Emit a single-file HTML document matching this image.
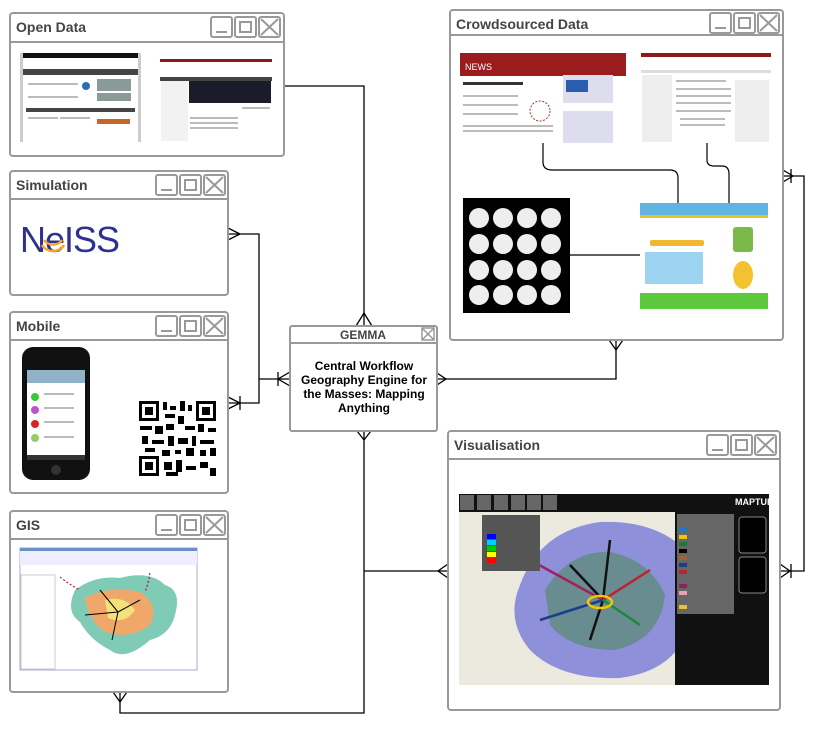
<!DOCTYPE html>
<html><head><meta charset="utf-8"><style>
html,body{margin:0;padding:0;background:#fff;}
svg{display:block;}
text{font-family:"Liberation Sans",Arial,sans-serif;}
</style></head><body>
<svg width="823" height="729" viewBox="0 0 823 729" xmlns="http://www.w3.org/2000/svg">
<defs>
<g id="btns" fill="none" stroke="#999" stroke-width="2">
<rect x="0" y="0" width="21" height="20" rx="2"/><line x1="5" y1="15" x2="16" y2="15"/>
<rect x="24" y="0" width="21" height="20" rx="2"/><rect x="29" y="5" width="11" height="10"/>
<rect x="48" y="0" width="21" height="20" rx="2"/><line x1="50" y1="2" x2="67" y2="18"/><line x1="67" y1="2" x2="50" y2="18"/>
</g>
</defs>

<!-- connectors -->
<g fill="none" stroke="#000" stroke-width="1.3">
<polyline points="284,86 364,86 364,326"/>
<polyline points="356,326 364,313 372,326"/>
<polyline points="228,234 259,234 259,403 228,403"/>
<polyline points="228,228 240,234 228,240"/><line x1="240" y1="396" x2="240" y2="410"/><polyline points="228,397 240,403 228,409"/>
<line x1="259" y1="379" x2="290" y2="379"/><line x1="278" y1="372" x2="278" y2="386"/><polyline points="290,372 278,379 290,386"/>
<polyline points="437,379 616,379 616,340"/>
<polyline points="437,373 446,379 437,385"/><polyline points="609,340 616,350 623,340"/>
<polyline points="364,431 364,713 120,713 120,692"/>
<polyline points="357,431 364,440 371,431"/><polyline points="113,692 120,702 127,692"/>
<line x1="364" y1="571" x2="448" y2="571"/><polyline points="448,564 438,571 448,578"/>
<polyline points="783,176 804,176 804,571 780,571"/>
<polyline points="783,170 793,176 783,182"/><line x1="791" y1="169" x2="791" y2="183"/>
<polyline points="780,564 790,571 780,578"/><line x1="791" y1="564" x2="791" y2="578"/>
</g>

<!-- windows -->
<g fill="#fff" stroke="#999" stroke-width="2">
<rect x="10" y="13" width="274" height="143" rx="3"/><line x1="10" y1="42" x2="284" y2="42"/>
<rect x="10" y="171" width="218" height="124" rx="3"/><line x1="10" y1="199" x2="228" y2="199"/>
<rect x="10" y="312" width="218" height="181" rx="3"/><line x1="10" y1="340" x2="228" y2="340"/>
<rect x="10" y="511" width="218" height="181" rx="3"/><line x1="10" y1="539" x2="228" y2="539"/>
<rect x="450" y="10" width="333" height="330" rx="3"/><line x1="450" y1="35" x2="783" y2="35"/>
<rect x="448" y="431" width="332" height="279" rx="3"/><line x1="448" y1="459" x2="780" y2="459"/>
<rect x="290" y="326" width="147" height="105" rx="2"/><line x1="290" y1="343" x2="437" y2="343"/>
</g>
<use href="#btns" x="211" y="17"/>
<use href="#btns" x="156" y="175"/>
<use href="#btns" x="156" y="316"/>
<use href="#btns" x="156" y="515"/>
<use href="#btns" x="710" y="13"/>
<use href="#btns" x="707" y="435"/>
<g fill="none" stroke="#999" stroke-width="1.5"><rect x="422" y="328" width="12" height="12"/><line x1="422" y1="328" x2="434" y2="340"/><line x1="434" y1="328" x2="422" y2="340"/></g>

<g font-weight="bold" fill="#444" font-size="14">
<text x="16" y="32">Open Data</text>
<text x="16" y="190">Simulation</text>
<text x="16" y="331">Mobile</text>
<text x="16" y="530">GIS</text>
<text x="456" y="29">Crowdsourced Data</text>
<text x="454" y="450">Visualisation</text>
<text x="363" y="339" font-size="12" text-anchor="middle">GEMMA</text>
</g>
<g font-weight="bold" fill="#000" font-size="12" text-anchor="middle">
<text x="364" y="370">Central Workflow</text>
<text x="364" y="384">Geography Engine for</text>
<text x="364" y="398">the Masses: Mapping</text>
<text x="364" y="412">Anything</text>
</g>

<!-- Open Data screenshots -->
<rect x="20" y="53" width="121" height="89" fill="#ccc"/>
<rect x="23" y="53" width="115" height="89" fill="#fff"/>
<rect x="23" y="53" width="115" height="5" fill="#111"/>
<rect x="23" y="69" width="115" height="6" fill="#444"/>
<rect x="26" y="108" width="109" height="4" fill="#444"/>
<rect x="97" y="79" width="34" height="12" fill="#8a9a98"/>
<rect x="97" y="93" width="34" height="8" fill="#8a9a98"/>
<circle cx="86" cy="86" r="4" fill="#2a6bbd"/>
<rect x="97" y="119" width="33" height="5" fill="#c86428"/>
<g fill="#bbb"><rect x="28" y="83" width="50" height="2"/><rect x="28" y="96" width="50" height="2"/><rect x="28" y="117" width="30" height="2"/><rect x="60" y="117" width="30" height="2"/></g>
<rect x="160" y="58" width="112" height="84" fill="#fff"/>
<rect x="160" y="59" width="112" height="3" fill="#8b1a1a"/>
<rect x="160" y="77" width="112" height="4" fill="#444"/>
<rect x="189" y="81" width="82" height="22" fill="#1b1b2a"/>
<rect x="161" y="81" width="27" height="60" fill="#f2f2f2"/>
<g fill="#bbb"><rect x="190" y="117" width="48" height="2"/><rect x="190" y="122" width="48" height="2"/><rect x="190" y="127" width="48" height="2"/><rect x="242" y="107" width="28" height="2"/></g>

<!-- NeISS -->
<text x="20" y="252" font-size="36" fill="#2e3192" letter-spacing="-1">NeISS</text>
<g fill="none" stroke="#f5a623" stroke-width="2.5"><path d="M44 240 a10 8 0 0 0 18 0"/><path d="M42 245 a12 10 0 0 0 22 0"/></g>

<!-- Mobile -->
<rect x="22" y="347" width="68" height="133" rx="11" fill="#111"/>
<rect x="27" y="370" width="58" height="90" fill="#fff"/>
<rect x="27" y="370" width="58" height="13" fill="#8fb2c9"/>
<circle cx="56" cy="470" r="5" fill="#333"/>
<g fill="#bbb"><rect x="44" y="393" width="30" height="2"/><rect x="44" y="407" width="30" height="2"/><rect x="44" y="421" width="30" height="2"/><rect x="44" y="436" width="30" height="2"/></g>
<circle cx="35" cy="397" r="4" fill="#3c3"/><circle cx="35" cy="410" r="4" fill="#b5c"/><circle cx="35" cy="424" r="4" fill="#d22"/><circle cx="35" cy="438" r="4" fill="#9c6"/>
<rect x="27" y="455" width="58" height="5" fill="#333"/>
<g>
<rect x="138" y="400" width="79" height="77" fill="#fff"/>
<g fill="#000">
<rect x="139" y="401" width="20" height="20"/><rect x="196" y="401" width="20" height="20"/><rect x="139" y="456" width="20" height="20"/>
</g>
<g fill="#fff"><rect x="142" y="404" width="14" height="14"/><rect x="199" y="404" width="14" height="14"/><rect x="142" y="459" width="14" height="14"/></g>
<g fill="#000"><rect x="145" y="407" width="8" height="8"/><rect x="202" y="407" width="8" height="8"/><rect x="145" y="462" width="8" height="8"/>
<rect x="163" y="402" width="4" height="8"/><rect x="170" y="406" width="6" height="4"/><rect x="180" y="401" width="5" height="10"/><rect x="188" y="405" width="4" height="6"/>
<rect x="165" y="414" width="10" height="4"/><rect x="178" y="416" width="6" height="8"/><rect x="140" y="426" width="12" height="4"/><rect x="155" y="426" width="8" height="8"/>
<rect x="166" y="424" width="8" height="6"/><rect x="185" y="426" width="10" height="4"/><rect x="198" y="424" width="6" height="8"/><rect x="208" y="428" width="8" height="4"/>
<rect x="142" y="436" width="6" height="8"/><rect x="152" y="440" width="12" height="4"/><rect x="168" y="436" width="6" height="10"/><rect x="178" y="438" width="10" height="6"/>
<rect x="192" y="436" width="4" height="10"/><rect x="200" y="440" width="14" height="4"/><rect x="145" y="448" width="10" height="4"/><rect x="162" y="450" width="8" height="6"/>
<rect x="175" y="450" width="6" height="4"/><rect x="186" y="448" width="8" height="8"/><rect x="200" y="450" width="6" height="6"/><rect x="210" y="448" width="6" height="8"/>
<rect x="164" y="462" width="8" height="8"/><rect x="176" y="460" width="6" height="12"/><rect x="186" y="466" width="10" height="4"/><rect x="200" y="462" width="8" height="6"/><rect x="210" y="468" width="6" height="8"/><rect x="166" y="472" width="12" height="4"/>
</g></g>

<!-- GIS -->
<rect x="20" y="548" width="177" height="122" fill="#fff" stroke="#aac" stroke-width="1"/>
<rect x="20" y="548" width="177" height="3" fill="#6b8fc9"/>
<rect x="20" y="551" width="177" height="14" fill="#eef"/>
<rect x="21" y="575" width="34" height="94" fill="#fff" stroke="#999" stroke-width="0.5"/>
<path d="M75 590 Q95 575 120 578 Q150 570 165 585 Q182 590 175 615 Q170 635 150 640 Q125 662 110 650 Q90 640 80 622 Q65 612 75 590 Z" fill="#7fcbb5"/>
<path d="M85 598 Q110 585 140 592 Q160 605 150 625 Q130 640 105 632 Q88 620 85 598 Z" fill="#f0a86a"/>
<path d="M105 600 Q125 595 135 610 Q125 625 108 618 Z" fill="#f5e07a"/>
<g stroke="#000" stroke-width="1" fill="none"><path d="M118 612 L100 590"/><path d="M118 612 L140 600"/><path d="M118 612 L112 640"/><path d="M118 612 L85 615"/></g>
<g stroke="#a03" stroke-width="1" fill="none" stroke-dasharray="2 2"><path d="M60 577 Q70 585 80 590"/><path d="M150 573 Q148 585 145 592"/></g>

<!-- Crowdsourced images -->
<rect x="460" y="53" width="166" height="90" fill="#fff"/>
<rect x="460" y="53" width="166" height="23" fill="#9b1c1c"/>
<text x="465" y="70" font-size="9" fill="#fff">NEWS</text>
<rect x="563" y="75" width="50" height="28" fill="#dde"/><rect x="566" y="80" width="22" height="12" fill="#2a5cb0"/>
<rect x="563" y="111" width="50" height="32" fill="#dde"/>
<circle cx="540" cy="111" r="10" fill="none" stroke="#a33" stroke-dasharray="2 1.5"/>
<g fill="#bbb"><rect x="463" y="82" width="60" height="3" fill="#333"/><rect x="463" y="95" width="55" height="2"/><rect x="463" y="104" width="55" height="2"/><rect x="463" y="113" width="55" height="2"/><rect x="463" y="125" width="90" height="2"/><rect x="463" y="130" width="90" height="2"/></g>
<rect x="641" y="53" width="130" height="89" fill="#fff"/>
<rect x="641" y="53" width="130" height="4" fill="#8b1a1a"/>
<rect x="641" y="70" width="130" height="3" fill="#ddd"/>
<rect x="642" y="75" width="30" height="67" fill="#eee"/>
<rect x="735" y="80" width="34" height="62" fill="#eee"/>
<g fill="#bbb"><rect x="676" y="80" width="50" height="2"/><rect x="676" y="88" width="55" height="2"/><rect x="676" y="95" width="55" height="2"/><rect x="676" y="102" width="55" height="2"/><rect x="676" y="110" width="55" height="2"/><rect x="680" y="118" width="45" height="2"/><rect x="680" y="124" width="45" height="2"/></g>
<rect x="463" y="198" width="107" height="115" fill="#000"/>
<g fill="#eee">
<circle cx="479" cy="218" r="10"/><circle cx="503" cy="218" r="10"/><circle cx="527" cy="218" r="10"/><circle cx="551" cy="218" r="10"/>
<circle cx="479" cy="244" r="10"/><circle cx="503" cy="244" r="10"/><circle cx="527" cy="244" r="10"/><circle cx="551" cy="244" r="10"/>
<circle cx="479" cy="270" r="10"/><circle cx="503" cy="270" r="10"/><circle cx="527" cy="270" r="10"/><circle cx="551" cy="270" r="10"/>
<circle cx="479" cy="295" r="10"/><circle cx="503" cy="295" r="10"/><circle cx="527" cy="295" r="10"/><circle cx="551" cy="295" r="10"/>
</g>
<rect x="640" y="203" width="128" height="106" fill="#fff"/>
<rect x="640" y="203" width="128" height="12" fill="#5fb4e0"/>
<rect x="640" y="215" width="128" height="3" fill="#e8c030"/>
<rect x="650" y="240" width="54" height="6" rx="2" fill="#f0b830"/>
<rect x="645" y="252" width="58" height="32" fill="#9cd3f0"/>
<rect x="733" y="227" width="20" height="25" rx="3" fill="#7cb84a"/>
<ellipse cx="743" cy="275" rx="10" ry="14" fill="#f3c230"/>
<rect x="640" y="293" width="128" height="16" fill="#5cc83c"/>
<g fill="none" stroke="#000" stroke-width="1.2">
<path d="M543 143 V162 Q543 170 552 170 H670 Q678 170 678 178 V203"/>
<path d="M707 143 V160 Q707 166 714 166 H722 Q729 166 729 174 V203"/>
<line x1="570" y1="255" x2="640" y2="255"/>
</g>

<!-- Visualisation -->
<rect x="459" y="494" width="310" height="191" fill="#ece9df"/>
<rect x="459" y="494" width="310" height="18" fill="#111"/>
<g fill="#666"><rect x="460" y="495" width="14" height="15"/><rect x="477" y="495" width="14" height="15"/><rect x="494" y="495" width="14" height="15"/><rect x="511" y="495" width="14" height="15"/><rect x="527" y="495" width="14" height="15"/><rect x="543" y="495" width="14" height="15"/></g>
<text x="735" y="505" font-size="9" fill="#fff" font-weight="bold">MAPTUBE</text>
<path d="M520 585 Q540 530 600 522 Q650 520 680 545 Q705 580 690 620 Q680 670 620 678 Q560 680 530 650 Q505 620 520 585 Z" fill="#7e80d8" opacity="0.85"/>
<path d="M545 590 Q570 550 610 552 Q650 560 665 595 Q660 640 615 650 Q570 650 550 625 Z" fill="#5a8a70" opacity="0.7"/>
<g fill="none" stroke-width="2.5">
<path d="M603 600 L570 565" stroke="#111"/><path d="M603 600 L610 540" stroke="#111"/><path d="M603 600 L590 640" stroke="#111"/>
<path d="M603 600 L530 560" stroke="#a02060"/><path d="M603 600 L540 620" stroke="#1a3e8a"/><path d="M603 600 L650 570" stroke="#c02030"/><path d="M603 600 L640 625" stroke="#1a8a3a"/>
<ellipse cx="600" cy="602" rx="12" ry="6" stroke="#f0c800"/>
</g>
<rect x="482" y="515" width="58" height="56" fill="#555"/>
<g><rect x="487" y="534" width="9" height="5" fill="#00f"/><rect x="487" y="540" width="9" height="5" fill="#0cf"/><rect x="487" y="546" width="9" height="5" fill="#0c0"/><rect x="487" y="552" width="9" height="5" fill="#ff0"/><rect x="487" y="558" width="9" height="5" fill="#f00"/></g>
<rect x="675" y="512" width="94" height="173" fill="#111"/>
<rect x="677" y="514" width="57" height="100" fill="#666"/>
<g><rect x="679" y="528" width="8" height="4" fill="#1a7ac9"/><rect x="679" y="535" width="8" height="4" fill="#f0c800"/><rect x="679" y="542" width="8" height="4" fill="#1a7a3a"/><rect x="679" y="549" width="8" height="4" fill="#000"/><rect x="679" y="556" width="8" height="4" fill="#a06030"/><rect x="679" y="563" width="8" height="4" fill="#1a3e8a"/><rect x="679" y="570" width="8" height="4" fill="#c02030"/><rect x="679" y="584" width="8" height="4" fill="#902060"/><rect x="679" y="591" width="8" height="4" fill="#f0a0b0"/><rect x="679" y="605" width="8" height="4" fill="#f0c030"/></g>
<rect x="739" y="517" width="27" height="36" rx="3" fill="#000" stroke="#888"/>
<rect x="739" y="557" width="27" height="36" rx="3" fill="#000" stroke="#888"/>
</svg>
</body></html>
